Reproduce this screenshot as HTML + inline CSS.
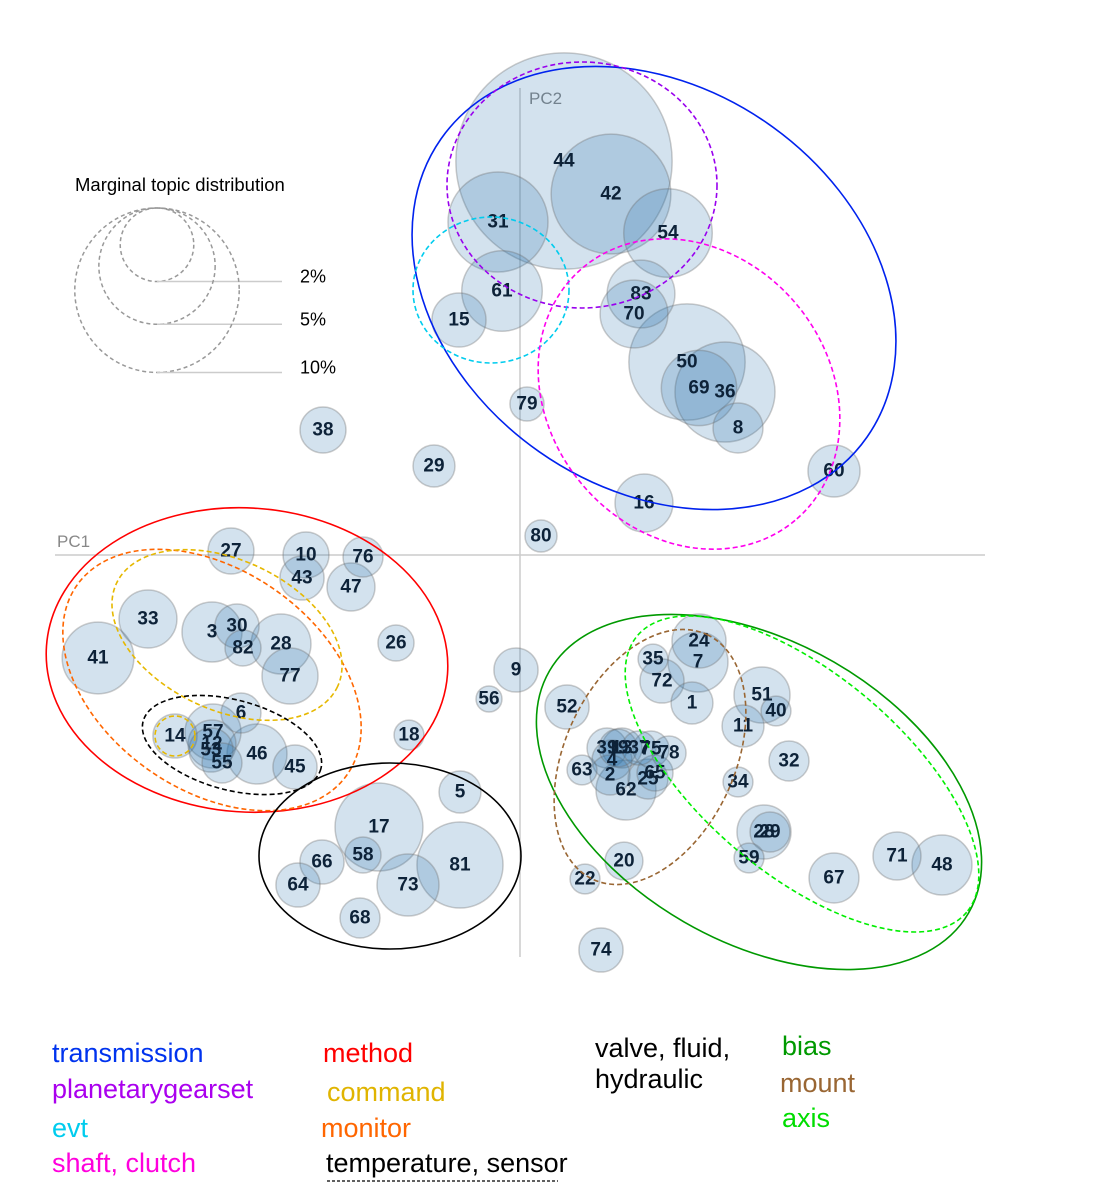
<!DOCTYPE html>
<html><head><meta charset="utf-8"><style>
body{margin:0;background:#fff;}
svg{display:block;font-family:"Liberation Sans",Arial,sans-serif;}
.lbl{font-weight:bold;font-size:19px;fill:#0d2238;text-anchor:middle;dominant-baseline:central;}
</style></head><body>
<svg id="chart" width="1100" height="1200" viewBox="0 0 1100 1200">
<g id="axes">
<line x1="520" y1="88" x2="520" y2="957" stroke="#ccc" stroke-width="1.5"/>
<line x1="55" y1="555" x2="985" y2="555" stroke="#ccc" stroke-width="1.5"/>
<text x="529" y="104" font-size="17" fill="#888">PC2</text>
<text x="57" y="547" font-size="17" fill="#888">PC1</text>
</g>
<g id="size-legend">
<text x="75" y="191" font-size="18.5" fill="#000">Marginal topic distribution</text>
</g>
<g id="bubbles"></g>
<g id="ellipses">
<ellipse cx="654" cy="288" rx="260" ry="200" transform="rotate(35 654 288)" fill="none" stroke="#0022ee" stroke-width="1.6"/>
<ellipse cx="582" cy="185" rx="135" ry="123" fill="none" stroke="#9900ee" stroke-width="1.6" stroke-dasharray="5,3"/>
<ellipse cx="491" cy="290" rx="78" ry="73" fill="none" stroke="#00ccee" stroke-width="1.6" stroke-dasharray="5,3"/>
<ellipse cx="689" cy="394" rx="165" ry="140" transform="rotate(50 689 394)" fill="none" stroke="#ff00ee" stroke-width="1.6" stroke-dasharray="5,3"/>
<ellipse cx="247" cy="660" rx="201" ry="152" transform="rotate(4 247 660)" fill="none" stroke="#ff0000" stroke-width="1.6"/>
<ellipse cx="212" cy="680" rx="165" ry="110" transform="rotate(35 212 680)" fill="none" stroke="#ff6600" stroke-width="1.6" stroke-dasharray="5,3"/>
<ellipse cx="227" cy="635" rx="122" ry="75" transform="rotate(25 227 635)" fill="none" stroke="#e6b800" stroke-width="1.6" stroke-dasharray="5,3"/>
<circle cx="175" cy="736" r="20" fill="none" stroke="#e6b800" stroke-width="1.6" stroke-dasharray="5,3"/>
<ellipse cx="232" cy="745" rx="92" ry="45" transform="rotate(15 232 745)" fill="none" stroke="#000" stroke-width="1.6" stroke-dasharray="5,3"/>
<ellipse cx="390" cy="856" rx="131" ry="93" fill="none" stroke="#000" stroke-width="1.6"/>
<ellipse cx="759" cy="792" rx="242" ry="150" transform="rotate(30 759 792)" fill="none" stroke="#009900" stroke-width="1.6"/>
<ellipse cx="650" cy="757" rx="135" ry="85" transform="rotate(-65 650 757)" fill="none" stroke="#996633" stroke-width="1.6" stroke-dasharray="5,3"/>
<ellipse cx="802" cy="774" rx="215" ry="100" transform="rotate(40 802 774)" fill="none" stroke="#00ee00" stroke-width="1.6" stroke-dasharray="5,3"/>
</g>
<g id="legend" font-size="27">
<text x="52" y="1062" fill="#0033ee">transmission</text>
<text x="52" y="1098" fill="#aa00ee">planetarygearset</text>
<text x="52" y="1137" fill="#00ccee">evt</text>
<text x="52" y="1172" fill="#ff00dd">shaft, clutch</text>
<text x="323" y="1062" fill="#ff0000">method</text>
<text x="327" y="1101" fill="#e0b400">command</text>
<text x="321" y="1137" fill="#ff6600">monitor</text>
<text x="326" y="1172" fill="#000">temperature, sensor</text>
<line x1="327" y1="1181" x2="558" y2="1181" stroke="#000" stroke-width="1.3" stroke-dasharray="3,2"/>
<text x="595" y="1057" fill="#000">valve, fluid,</text>
<text x="595" y="1088" fill="#000">hydraulic</text>
<text x="782" y="1055" fill="#009900">bias</text>
<text x="780" y="1092" fill="#996633">mount</text>
<text x="782" y="1127" fill="#00dd00">axis</text>
</g>
</svg>
<script>
const topicIds = [44,42,31,54,61,15,83,70,50,69,36,8,79,60,16,38,29,80,27,10,43,76,47,33,41,3,30,82,28,77,26,9,56,6,14,57,12,53,55,46,45,18,5,17,58,66,64,73,81,68,52,24,35,7,72,1,51,40,11,32,39,13,4,2,37,75,78,25,65,62,63,34,19,20,22,28,29,59,67,71,48,74];
const pc1 = [4.4,9.1,-2.2,14.8,-1.8,-6.1,12.1,11.4,16.7,17.9,20.5,21.8,0.7,31.4,12.4,-19.7,-8.6,2.1,-28.9,-21.4,-21.8,-15.7,-16.9,-37.2,-42.2,-30.8,-28.3,-27.7,-23.9,-23.0,-12.4,-0.4,-3.1,-27.9,-34.5,-30.7,-30.8,-30.9,-29.8,-26.3,-22.5,-11.1,-6.0,-14.1,-15.7,-19.8,-22.2,-11.2,-6.0,-16.0,4.7,17.9,13.3,17.8,14.2,17.2,24.2,25.6,22.3,26.9,8.7,10.2,9.2,9.0,11.9,13.1,14.9,12.8,13.5,10.6,6.2,21.8,9.8,10.4,6.5,24.4,25.0,22.9,31.4,37.7,42.2,8.1];
const pc2 = [39.4,36.1,33.3,32.2,26.4,23.5,26.1,24.1,19.3,16.7,16.3,12.7,15.1,8.4,5.2,12.5,8.9,1.9,0.4,0.0,-2.3,-0.2,-3.2,-6.4,-10.3,-7.7,-7.1,-9.3,-8.9,-12.1,-8.8,-11.5,-14.4,-15.8,-18.1,-17.7,-18.9,-19.5,-20.8,-19.9,-21.2,-18.0,-23.7,-27.2,-30.0,-30.7,-33.0,-33.0,-31.0,-36.3,-15.2,-8.6,-10.4,-10.7,-12.6,-14.8,-14.0,-15.6,-17.1,-20.6,-19.3,-19.3,-20.5,-22.0,-19.3,-19.4,-19.8,-22.4,-21.8,-23.5,-21.5,-22.7,-19.3,-30.6,-32.4,-27.7,-27.7,-30.3,-32.3,-30.1,-31.0,-39.5];
const share = [17.3,5.3,3.7,2.9,2.4,1.08,1.7,1.7,5.0,2.1,3.7,0.92,0.43,1.0,1.24,0.78,0.65,0.38,0.78,0.78,0.72,0.59,0.85,1.24,1.9,1.33,0.72,0.48,1.33,1.16,0.48,0.72,0.25,0.59,0.72,1.16,0.85,0.72,0.59,1.33,0.72,0.33,0.65,2.86,0.48,0.72,0.72,1.42,2.74,0.59,0.72,1.08,0.33,1.33,0.72,0.65,1.16,0.33,0.65,0.59,0.59,0.59,0.59,0.59,0.43,0.48,0.43,0.59,0.48,1.33,0.33,0.33,0.53,0.53,0.33,1.08,0.59,0.33,0.92,0.85,1.33,0.72];
const legendShares = [2,5,10];
const legendLabels = ["2%","5%","10%"];

const NS = "http://www.w3.org/2000/svg";
const xScale = v => 520 + v * 10;
const yScale = v => 555 - v * 10;
const rScale = p => 26 * Math.sqrt(p);

const bg = document.getElementById('bubbles');
const order = topicIds.map((d,i)=>i).sort((a,b)=>share[b]-share[a]);
order.forEach(i => {
  const c = document.createElementNS(NS,'circle');
  c.setAttribute('cx', xScale(pc1[i]));
  c.setAttribute('cy', yScale(pc2[i]));
  c.setAttribute('r', rScale(share[i]));
  c.setAttribute('fill','rgba(35,110,170,0.2)');
  c.setAttribute('stroke','rgba(110,110,110,0.35)');
  c.setAttribute('stroke-width','1.5');
  
  
  bg.appendChild(c);
});
topicIds.forEach((id,i) => {
  const t = document.createElementNS(NS,'text');
  t.setAttribute('x', xScale(pc1[i]));
  t.setAttribute('y', yScale(pc2[i]));
  t.setAttribute('class','lbl');
  t.textContent = id;
  
  
  bg.appendChild(t);
});

const lg = document.getElementById('size-legend');
const topY = 208, cxL = 157;
legendShares.forEach((p,i) => {
  const r = rScale(p);
  const c = document.createElementNS(NS,'circle');
  c.setAttribute('cx', cxL);
  c.setAttribute('cy', topY + r);
  c.setAttribute('r', r);
  c.setAttribute('fill','none');
  c.setAttribute('stroke','#999');
  c.setAttribute('stroke-width','1.5');
  c.setAttribute('stroke-dasharray','4,3');
  
  
  lg.appendChild(c);
  const l = document.createElementNS(NS,'line');
  l.setAttribute('x1', cxL); l.setAttribute('x2', 282);
  l.setAttribute('y1', topY + 2*r); l.setAttribute('y2', topY + 2*r);
  l.setAttribute('stroke','#ccc'); l.setAttribute('stroke-width','1.5');
  
  
  lg.appendChild(l);
  const t = document.createElementNS(NS,'text');
  t.setAttribute('x', 300);
  t.setAttribute('y', topY + 2*r + 1);
  t.setAttribute('font-size','18');
  t.textContent = legendLabels[i];
  
  
  lg.appendChild(t);
});
</script>
</body></html>
